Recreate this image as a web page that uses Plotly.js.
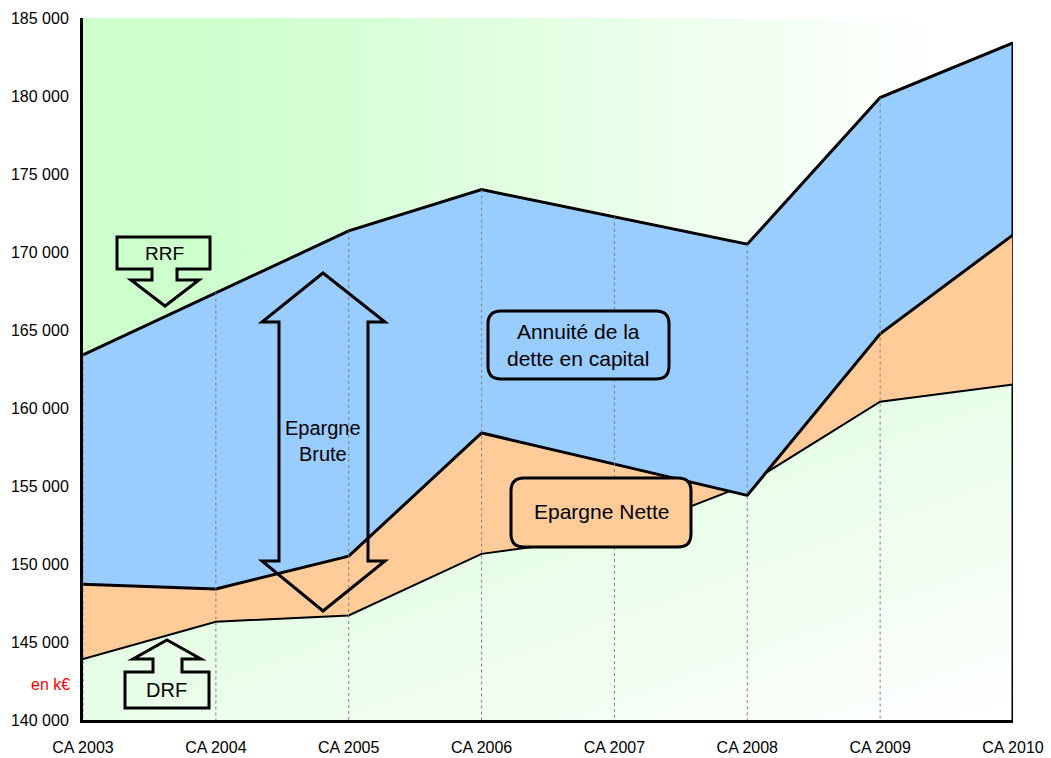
<!DOCTYPE html>
<html>
<head>
<meta charset="utf-8">
<script src="https://cdn.plot.ly/plotly-3.0.1.min.js"></script>
<style>
  html, body { margin: 0; padding: 0; background: #ffffff; }
  #chart { width: 1051px; height: 758px; }
</style>
</head>
<body>
<div id="chart"></div>
<script>
// Comptes administratifs 2003-2010, en k€
const categories = ['CA 2003', 'CA 2004', 'CA 2005', 'CA 2006', 'CA 2007', 'CA 2008', 'CA 2009', 'CA 2010'];
// Recettes réelles de fonctionnement
const rrf = [163400, 167400, 171350, 174000, 172250, 170500, 179900, 183400];
// Dépenses réelles de fonctionnement
const drf = [143900, 146300, 146700, 150650, 151800, 155100, 160400, 161500];
// Annuité de la dette en capital
const annuite = [14700, 19000, 20850, 15600, 15850, 16100, 15150, 12300];
// Graduations de l'axe des montants
const yTicks = [140000, 145000, 150000, 155000, 160000, 165000, 170000, 175000, 180000, 185000];

const yMin = 140000, yMax = 185000;
const idx = categories.map((_, i) => i);
const last = idx.length - 1;
// Niveau RRF - annuité : l'écart avec les DRF donne l'épargne nette
const niveauNette = rrf.map((v, i) => v - annuite[i]);

const FONT = 'Liberation Sans, Arial, sans-serif';

// Plot area in pixels (margins below)
const L = 83, T = 18, W = 930, H = 702;
const px = x => ((x - L) / W).toFixed(5);
const py = y => ((T + H - y) / H).toFixed(5);
const poly = pts => 'M' + pts.map(p => px(p[0]) + ',' + py(p[1])).join(' L') + ' Z';
function roundRect(x0, y0, x1, y1, r) {
  return `M${px(x0 + r)},${py(y0)} L${px(x1 - r)},${py(y0)} Q${px(x1)},${py(y0)} ${px(x1)},${py(y0 + r)} ` +
         `L${px(x1)},${py(y1 - r)} Q${px(x1)},${py(y1)} ${px(x1 - r)},${py(y1)} ` +
         `L${px(x0 + r)},${py(y1)} Q${px(x0)},${py(y1)} ${px(x0)},${py(y1 - r)} ` +
         `L${px(x0)},${py(y0 + r)} Q${px(x0)},${py(y0)} ${px(x0 + r)},${py(y0)} Z`;
}

// Gradient backgrounds
function svgUri(svg) { return 'data:image/svg+xml;charset=utf-8,' + encodeURIComponent(svg); }
const bgSvg = "<svg xmlns='http://www.w3.org/2000/svg' width='200' height='200' viewBox='0 0 200 200' preserveAspectRatio='none'>" +
  "<defs><linearGradient id='g' x1='0' y1='0' x2='1' y2='0'>" +
  "<stop offset='0' stop-color='#cdffcd'/><stop offset='0.12' stop-color='#ccffcc'/><stop offset='0.92' stop-color='#ffffff'/>" +
  "</linearGradient></defs><rect width='200' height='200' fill='url(#g)'/></svg>";
const drfSvg = "<svg xmlns='http://www.w3.org/2000/svg' width='200' height='200' viewBox='0 0 200 200' preserveAspectRatio='none'>" +
  "<defs><linearGradient id='g' x1='0' y1='0' x2='1' y2='1'>" +
  "<stop offset='0' stop-color='#d2fcd2'/><stop offset='1' stop-color='#ffffff'/>" +
  "</linearGradient></defs><rect width='200' height='200' fill='url(#g)'/></svg>";
const drfTop = Math.max(...drf);

const traces = [
  { // DRF
    x: idx, y: drf, type: 'scatter', mode: 'lines',
    line: { color: '#000', width: 2 }, hoverinfo: 'skip'
  },
  { // épargne nette (entre DRF et RRF - annuité)
    x: idx, y: niveauNette, type: 'scatter', mode: 'lines', fill: 'tonexty',
    fillcolor: '#ffcc99', line: { color: '#000', width: 3 }, hoverinfo: 'skip'
  },
  { // annuité de la dette en capital (jusqu'aux RRF)
    x: idx, y: rrf, type: 'scatter', mode: 'lines', fill: 'tonexty',
    fillcolor: '#99ccff', line: { color: '#000', width: 3 }, hoverinfo: 'skip'
  }
];

// Drop lines from the RRF down to the axis
const dropX = [], dropY = [];
idx.forEach(i => { dropX.push(i, i, null); dropY.push(rrf[i], yMin, null); });
traces.push({
  x: dropX, y: dropY, type: 'scatter', mode: 'lines',
  line: { color: '#808080', width: 1, dash: 'dot' }, hoverinfo: 'skip'
});

// Right-hand edges of the areas
traces.push(
  { x: [last, last], y: [rrf[last], niveauNette[last]], type: 'scatter', mode: 'lines', line: { color: '#000', width: 3 }, hoverinfo: 'skip' },
  { x: [last, last], y: [niveauNette[last], drf[last]], type: 'scatter', mode: 'lines', line: { color: '#000', width: 1.5 }, hoverinfo: 'skip' },
  { x: [last, last], y: [drf[last], yMin], type: 'scatter', mode: 'lines', line: { color: '#000', width: 3 }, hoverinfo: 'skip' }
);

const shapeLine = { color: '#000', width: 3 };
const shapes = [
  { // flèche RRF
    type: 'path', xref: 'paper', yref: 'paper', layer: 'above', line: shapeLine,
    path: poly([[117,237],[210,237],[210,269],[177,269],[177,280],[199,280],[165,306],[131,280],[152,280],[152,269],[117,269]])
  },
  { // flèche DRF
    type: 'path', xref: 'paper', yref: 'paper', layer: 'above', line: shapeLine,
    path: poly([[167,640],[201,659],[182,659],[182,672],[209,672],[209,708],[125,708],[125,672],[153,672],[153,659],[133,659]])
  },
  { // double flèche épargne brute
    type: 'path', xref: 'paper', yref: 'paper', layer: 'above', line: shapeLine,
    path: poly([[323,273],[385,322],[368,322],[368,561],[385,561],[323,611],[262,561],[279,561],[279,322],[262,322]])
  },
  { // cadre annuité
    type: 'path', xref: 'paper', yref: 'paper', layer: 'above', line: shapeLine,
    fillcolor: '#99ccff', path: roundRect(488, 311, 669, 379, 13)
  },
  { // cadre épargne nette
    type: 'path', xref: 'paper', yref: 'paper', layer: 'above', line: shapeLine,
    fillcolor: '#ffcc99', path: roundRect(511, 478, 691, 547, 13)
  }
];

const ann = (x, y, text, size, extra) => Object.assign({
  xref: 'paper', yref: 'paper', x: +px(x), y: +py(y), text: text, showarrow: false,
  xanchor: 'center', yanchor: 'middle', font: { family: FONT, size: size, color: '#000' }
}, extra || {});

const annotations = [
  ann(165, 253, 'RRF', 19),
  ann(167, 690, 'DRF', 20),
  ann(323, 441, 'Epargne<br>Brute', 20),
  ann(578, 345, 'Annuité de la<br>dette en capital', 21),
  ann(601, 512, 'Epargne Nette', 21),
  ann(72, 684, 'en k€', 16, { xanchor: 'right', font: { family: FONT, size: 16, color: '#ff0000' } })
];

const layout = {
  width: 1051, height: 758,
  margin: { l: L, r: 1051 - L - W, t: T, b: 758 - T - H, pad: 0 },
  paper_bgcolor: '#ffffff', plot_bgcolor: 'rgba(0,0,0,0)',
  showlegend: false,
  separators: ', ',
  font: { family: FONT, size: 16, color: '#000' },
  xaxis: {
    range: [0, last], tickvals: idx, ticktext: categories,
    showgrid: false, zeroline: false, showline: true, linecolor: '#000', linewidth: 3,
    ticks: '', ticklabelstandoff: 11, tickfont: { family: FONT, size: 16, color: '#000' }
  },
  yaxis: {
    range: [yMin, yMax], tickvals: yTicks, tickformat: ',d',
    showgrid: false, zeroline: false, showline: true, linecolor: '#000', linewidth: 3,
    ticks: '', ticklabelstandoff: 8, tickfont: { family: FONT, size: 16, color: '#000' }
  },
  images: [
    { source: svgUri(bgSvg), xref: 'paper', yref: 'paper', x: 0, y: 1, sizex: 1, sizey: 1,
      xanchor: 'left', yanchor: 'top', sizing: 'stretch', layer: 'below' },
    { source: svgUri(drfSvg), xref: 'x', yref: 'y', x: 0, y: drfTop, sizex: last, sizey: drfTop - yMin,
      xanchor: 'left', yanchor: 'top', sizing: 'stretch', layer: 'below' }
  ],
  shapes: shapes,
  annotations: annotations
};

Plotly.newPlot('chart', traces, layout, { displayModeBar: false, staticPlot: true });
</script>
</body>
</html>
